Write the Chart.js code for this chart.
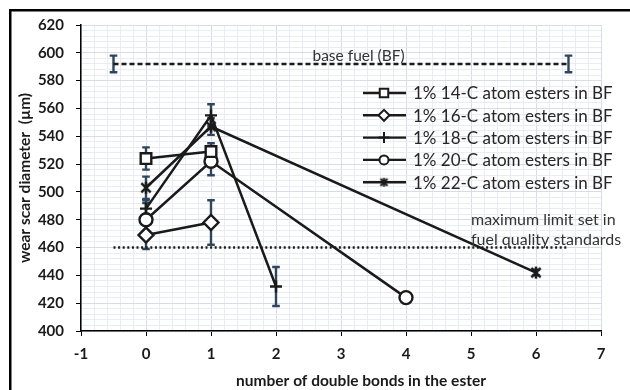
<!DOCTYPE html>
<html>
<head>
<meta charset="utf-8">
<script src="https://cdn.jsdelivr.net/npm/chart.js@4.4.0/dist/chart.umd.min.js"></script>
<style>
  html, body { margin: 0; padding: 0; background: #ffffff; }
  #wrap { width: 630px; height: 390px; position: relative; }
</style>
</head>
<body>
<div id="wrap"><canvas id="chart" width="630" height="390"></canvas></div>
<script>
// Axis ranges and labelled ticks
const xMajorTicks = [-1, 0, 1, 2, 3, 4, 5, 6, 7];
const yMajorTicks = [400, 420, 440, 460, 480, 500, 520, 540, 560, 580, 600, 620];
const xMinorStep = 0.2;
const yMinorStep = 4;

// Series names
const seriesNames = [
  '1% 14-C atom esters in BF',
  '1% 16-C atom esters in BF',
  '1% 18-C atom esters in BF',
  '1% 20-C atom esters in BF',
  '1% 22-C atom esters in BF'
];

// Wear scar diameter (µm) vs number of double bonds, with error half-widths
const bonds14 = [0, 1];
const wsd14 = [524, 529];
const err14 = [8, 6];

const bonds16 = [0, 1];
const wsd16 = [469, 478];
const err16 = [10, 16];

const bonds18 = [0, 1, 2];
const wsd18 = [488, 555, 432];
const err18 = [6, 8, 14];

const bonds20 = [0, 1, 4];
const wsd20 = [480, 522, 424];
const err20 = [12, 10, 3];

const bonds22 = [0, 1, 6];
const wsd22 = [503, 547, 442];
const err22 = [8, 6, 2];

// Reference lines
const baseFuelBonds = [-0.5, 6.5];
const baseFuelWsd = [592, 592];
const baseFuelErr = [6, 6];
const baseFuelLabel = 'base fuel (BF)';

const limitBonds = [-0.5, 6.5];
const limitWsd = [460, 460];
const limitLabel = ['maximum limit set in', 'fuel quality standards'];

const xTitle = 'number of double bonds in the ester';
const yTitle = 'wear scar diameter  (µm)';

const INK = '#1a1a1a';
const ERR = '#2f455c';
const FONT = 'Lato, "Open Sans", "Liberation Sans", sans-serif';

const pts = (xs, ys) => xs.map((x, i) => ({ x: x, y: ys[i] }));

// Asterisk marker: an X crossed by a vertical stroke
function makeAsterisk(size, lw) {
  const c = document.createElement('canvas');
  c.width = size; c.height = size;
  const g = c.getContext('2d');
  const m = size / 2, r = size / 2 - 1, d = r * 0.78;
  g.strokeStyle = INK; g.lineWidth = lw;
  g.beginPath();
  g.moveTo(m - d, m - d); g.lineTo(m + d, m + d);
  g.moveTo(m + d, m - d); g.lineTo(m - d, m + d);
  g.moveTo(m, m - r); g.lineTo(m, m + r);
  g.stroke();
  return c;
}
const asteriskBig = makeAsterisk(14, 2.5);
const asteriskSmall = makeAsterisk(11, 2);

const markerStyles = [
  { pointStyle: 'rect', radius: 7.5, legendRadius: 6 },
  { pointStyle: 'rectRot', radius: 7.5, legendRadius: 5.5 },
  { pointStyle: 'cross', radius: 6, legendRadius: 5.5 },
  { pointStyle: 'circle', radius: 6.5, legendRadius: 4.5 },
  { pointStyle: asteriskBig, radius: 7, legendStyle: asteriskSmall, legendRadius: 5 }
];

function seriesDataset(i, xs, ys, errs) {
  const m = markerStyles[i];
  return {
    label: seriesNames[i],
    data: pts(xs, ys),
    errors: errs,
    borderColor: INK,
    borderWidth: 2.5,
    pointStyle: m.pointStyle,
    pointRadius: m.radius,
    pointHoverRadius: m.radius,
    pointBorderWidth: 2.4,
    pointBorderColor: INK,
    pointBackgroundColor: '#ffffff',
    tension: 0,
    fill: false
  };
}

const datasets = [
  {
    label: baseFuelLabel,
    data: pts(baseFuelBonds, baseFuelWsd),
    errors: baseFuelErr,
    borderColor: INK,
    borderWidth: 2.5,
    borderDash: [5, 3],
    pointRadius: 0,
    fill: false
  },
  {
    label: 'limit',
    data: pts(limitBonds, limitWsd),
    borderColor: INK,
    borderWidth: 2.5,
    borderDash: [2, 2.6],
    pointRadius: 0,
    fill: false
  },
  seriesDataset(0, bonds14, wsd14, err14),
  seriesDataset(1, bonds16, wsd16, err16),
  seriesDataset(2, bonds18, wsd18, err18),
  seriesDataset(3, bonds20, wsd20, err20),
  seriesDataset(4, bonds22, wsd22, err22)
];

function buildTicks(min, max, step) {
  const out = [];
  const n = Math.round((max - min) / step);
  for (let i = 0; i <= n; i++) out.push({ value: Math.round((min + i * step) * 1000) / 1000 });
  return out;
}
const isMajor = (v, list) => list.some(t => Math.abs(t - v) < 1e-6);

// White page with the frame around the figure
const frame = {
  id: 'frame',
  beforeDraw(chart) {
    const ctx = chart.ctx;
    ctx.save();
    ctx.fillStyle = '#ffffff';
    ctx.fillRect(0, 0, chart.width, chart.height);
    ctx.strokeStyle = '#000000';
    ctx.lineWidth = 2.5;
    ctx.strokeRect(10.25, 10.25, 700, 500);
    ctx.restore();
  }
};

// Vertical error bars with caps
const errorBars = {
  id: 'errorBars',
  beforeDatasetsDraw(chart) {
    const { ctx, scales: { x, y } } = chart;
    ctx.save();
    ctx.strokeStyle = ERR;
    ctx.lineWidth = 2.4;
    chart.data.datasets.forEach(ds => {
      if (!ds.errors) return;
      ds.data.forEach((p, j) => {
        const e = ds.errors[j];
        const px = x.getPixelForValue(p.x);
        const top = y.getPixelForValue(p.y + e);
        const bot = y.getPixelForValue(p.y - e);
        ctx.beginPath();
        ctx.moveTo(px, top); ctx.lineTo(px, bot);
        ctx.moveTo(px - 3.8, top); ctx.lineTo(px + 3.8, top);
        ctx.moveTo(px - 3.8, bot); ctx.lineTo(px + 3.8, bot);
        ctx.stroke();
      });
    });
    ctx.restore();
  }
};

// Legend inside the plot, plus the reference-line captions and x title
const annotations = {
  id: 'annotations',
  afterDatasetsDraw(chart) {
    const { ctx, scales: { x, y } } = chart;
    ctx.save();

    // legend rows
    const lx0 = 363, lx1 = 406, mx = 384, tx = 413, ty0 = 93, dy = 22.3;
    ctx.font = '17px ' + FONT;
    ctx.textBaseline = 'middle';
    ctx.textAlign = 'left';
    for (let i = 0; i < seriesNames.length; i++) {
      const ds = chart.data.datasets[i + 2];
      const ry = ty0 + i * dy;
      ctx.strokeStyle = INK;
      ctx.lineWidth = 2.4;
      ctx.setLineDash([]);
      ctx.beginPath(); ctx.moveTo(lx0, ry); ctx.lineTo(lx1, ry); ctx.stroke();
      const m = markerStyles[i];
      ctx.fillStyle = '#ffffff';
      ctx.strokeStyle = INK;
      ctx.lineWidth = 2;
      Chart.helpers.drawPoint(ctx, {
        pointStyle: m.legendStyle || ds.pointStyle,
        radius: m.legendRadius,
        borderWidth: 2,
        rotation: 0
      }, mx, ry);
      ctx.fillStyle = '#262626';
      ctx.fillText(seriesNames[i], tx, ry + 1);
    }

    // base fuel caption, sitting on the dashed line
    ctx.font = '15.5px ' + FONT;
    ctx.fillStyle = '#333333';
    ctx.textAlign = 'center';
    ctx.textBaseline = 'alphabetic';
    ctx.fillText(baseFuelLabel, x.getPixelForValue(3.27), y.getPixelForValue(baseFuelWsd[0]) - 3);

    // limit caption above the dotted line
    ctx.font = '16px ' + FONT;
    ctx.textAlign = 'left';
    const ly = y.getPixelForValue(limitWsd[0]);
    ctx.fillText(limitLabel[0], x.getPixelForValue(5), ly - 23);
    ctx.fillText(limitLabel[1], x.getPixelForValue(5), ly - 3);

    // x-axis title
    ctx.font = 'bold 15.5px ' + FONT;
    ctx.fillStyle = INK;
    ctx.textAlign = 'center';
    ctx.textBaseline = 'middle';
    ctx.fillText(xTitle, 361, 381);
    ctx.restore();
  }
};

new Chart(document.getElementById('chart'), {
  type: 'line',
  data: { datasets: datasets },
  plugins: [frame, errorBars, annotations],
  options: {
    responsive: false,
    animation: false,
    devicePixelRatio: 1,
    layout: { padding: { left: 0, top: 25, right: 29, bottom: 0 } },
    plugins: { legend: { display: false }, tooltip: { enabled: false } },
    scales: {
      x: {
        type: 'linear',
        min: xMajorTicks[0],
        max: xMajorTicks[xMajorTicks.length - 1],
        afterBuildTicks: s => { s.ticks = buildTicks(s.min, s.max, xMinorStep); },
        afterFit: s => { s.height = 59; },
        border: { color: '#000000', width: 1.5 },
        grid: {
          color: c => isMajor(c.tick.value, xMajorTicks) ? '#d6dde7' : '#e9edf3',
          lineWidth: 1,
          tickLength: 5,
          tickColor: c => isMajor(c.tick.value, xMajorTicks) ? '#000000' : 'rgba(0,0,0,0)'
        },
        ticks: {
          autoSkip: false,
          maxRotation: 0,
          padding: 9,
          color: INK,
          font: { family: FONT, size: 15, weight: 'bold' },
          callback: v => isMajor(v, xMajorTicks) ? String(Math.round(v)) : ''
        }
      },
      y: {
        type: 'linear',
        min: yMajorTicks[0],
        max: yMajorTicks[yMajorTicks.length - 1],
        afterBuildTicks: s => { s.ticks = buildTicks(s.min, s.max, yMinorStep); },
        afterFit: s => { s.width = 81; },
        border: { color: '#000000', width: 1.5 },
        grid: {
          color: c => isMajor(c.tick.value, yMajorTicks) ? '#d6dde7' : '#e9edf3',
          lineWidth: 1,
          tickLength: 5,
          tickColor: c => isMajor(c.tick.value, yMajorTicks) ? '#000000' : 'rgba(0,0,0,0)'
        },
        ticks: {
          autoSkip: false,
          padding: 12,
          color: INK,
          font: { family: FONT, size: 15, weight: 'bold' },
          callback: v => isMajor(v, yMajorTicks) ? String(Math.round(v)) : ''
        },
        title: {
          display: true,
          text: yTitle,
          color: INK,
          font: { family: FONT, size: 15.5, weight: 'bold' },
          padding: { top: 16, bottom: 0 }
        }
      }
    }
  }
});
</script>
</body>
</html>
